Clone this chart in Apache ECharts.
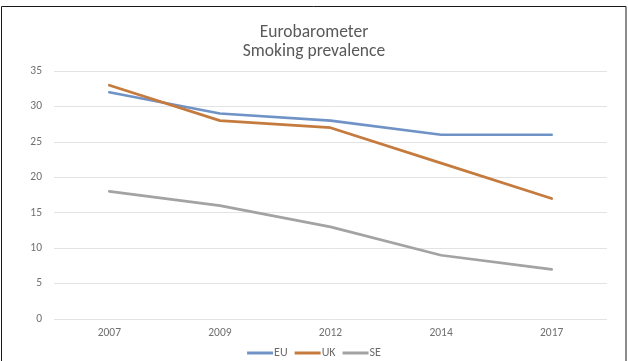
<!DOCTYPE html>
<html><head><meta charset="utf-8">
<script src="https://cdn.jsdelivr.net/npm/echarts@6/dist/echarts.min.js"></script>
<style>html,body{margin:0;padding:0;background:#fff}#c{width:628px;height:361px}</style>
</head><body><div id="c"></div>
<script>
const years = ['2007','2009','2012','2014','2017'];
const eu = [32, 29, 28, 26, 26];
const uk = [33, 28, 27, 22, 17];
const se = [18, 16, 13, 9, 7];
const yTicks = {min: 0, max: 35, interval: 5};

const chart = echarts.init(document.getElementById('c'), null, {renderer: 'canvas'});
const font = 'Carlito, Calibri, Lato, "Open Sans", sans-serif';
function line(name, data, color) {
  return {name, type: 'line', data, symbol: 'none', smooth: false,
    lineStyle: {color, width: 2.7, cap: 'round', join: 'round'}, itemStyle: {color}};
}
chart.setOption({
  animation: false,
  backgroundColor: '#fff',
  title: {
    text: 'Eurobarometer\nSmoking prevalence', left: 'center', top: 18,
    textStyle: {fontFamily: font, fontSize: 17.5, fontWeight: 'normal', color: '#595959', lineHeight: 19}
  },
  legend: {
    bottom: -3, left: 'center', itemWidth: 26, itemHeight: 3, itemGap: 7,
    icon: 'rect',
    textStyle: {fontFamily: font, fontSize: 12, color: '#6b6b6b', padding: [0, 0, 0, -4]},
    data: ['EU', 'UK', 'SE']
  },
  grid: {left: 54, right: 21, top: 71, bottom: 42},
  xAxis: {
    type: 'category', data: years, boundaryGap: true,
    axisLine: {show: false}, axisTick: {show: false},
    axisLabel: {fontFamily: font, fontSize: 11.5, color: '#707070', margin: 8}
  },
  yAxis: {
    type: 'value', min: yTicks.min, max: yTicks.max, interval: yTicks.interval,
    axisLine: {show: false}, axisTick: {show: false},
    axisLabel: {fontFamily: font, fontSize: 11.5, color: '#707070', margin: 12},
    splitLine: {lineStyle: {color: '#e3e3e3', width: 1}}
  },
  graphic: [{type: 'rect', shape: {x: 1.5, y: 6.5, width: 624.5, height: 380},
    style: {fill: null, stroke: '#1a1a1a', lineWidth: 1}, silent: true, z: 100}],
  series: [
    line('EU', eu, '#6f93c6'),
    line('UK', uk, '#c57a3e'),
    line('SE', se, '#a3a3a3')
  ]
});
</script></body></html>
